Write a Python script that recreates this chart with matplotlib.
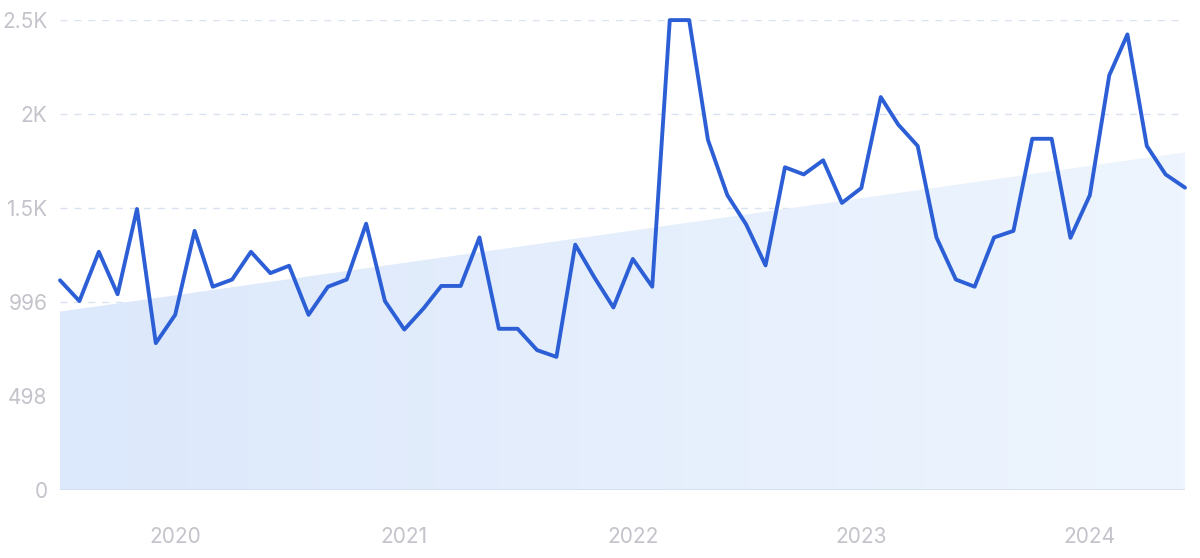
import numpy as np
import pandas as pd
import matplotlib
matplotlib.use("Agg")
import matplotlib.pyplot as plt
from matplotlib.colors import LinearSegmentedColormap

# Monthly values, Jul 2019 - Jun 2024
months = pd.date_range("2019-07-01", periods=60, freq="MS")
values = [
    1111, 1001, 1262, 1037, 1489, 778, 928, 1373, 1077, 1115,
    1262, 1149, 1188, 928, 1077, 1115, 1411, 1001, 850, 963,
    1081, 1081, 1338, 854, 854, 741, 705, 1300, 1124, 967,
    1224, 1077, 2490, 2490, 1855, 1562, 1407, 1190, 1710, 1672,
    1747, 1521, 1600, 2082, 1936, 1823, 1338, 1115, 1077, 1338,
    1373, 1861, 1861, 1336, 1562, 2197, 2414, 1823, 1672, 1602,
]
# trend band (start / end of the linear trend)
trend_dates = [months[0], months[-1]]
trend_values = [945, 1789]

y_ticks = [0, 498, 996, 1494, 1992, 2490]
y_labels = ["0", "498", "996", "1.5K", "2K", "2.5K"]
year_ticks = pd.to_datetime(["2020-01-01", "2021-01-01", "2022-01-01",
                             "2023-01-01", "2024-01-01"])
year_labels = ["2020", "2021", "2022", "2023", "2024"]

LINE_COLOR = "#2c5fd6"
TEXT_COLOR = "#c3c3cb"
GRID_COLOR = "#d9e2f0"

plt.rcParams["font.family"] = ["Inter", "DejaVu Sans"]

fig = plt.figure(figsize=(12, 5.58), dpi=100)
ax = fig.add_axes([0.05, 0.122, 0.9375, 0.842])

# trend area with a soft horizontal gradient
poly = ax.fill_between(trend_dates, 0, trend_values, color="none", lw=0)
cmap = LinearSegmentedColormap.from_list("fade", ["#dce8fb", "#eef5fe"])
x0, x1 = matplotlib.dates.date2num(months[0]), matplotlib.dates.date2num(months[-1])
grad = np.linspace(0, 1, 256).reshape(1, -1)
img = ax.imshow(grad, cmap=cmap, aspect="auto", extent=[x0, x1, 0, max(trend_values)],
                origin="lower", zorder=1)
path = poly.get_paths()[0]
img.set_clip_path(path, transform=ax.transData)

# dashed grid lines
for t in y_ticks[1:]:
    ax.axhline(t, color=GRID_COLOR, lw=1, ls=(0, (5, 5)), zorder=0)
ax.axhline(0, color="#d3def0", lw=1.2, zorder=2)

ax.plot(months, values, color=LINE_COLOR, lw=2.8, zorder=3,
        solid_joinstyle="round", solid_capstyle="round", clip_on=False)

ax.set_xlim(months[0], months[-1])
ax.set_ylim(0, 2490)
ax.set_yticks(y_ticks)
ax.set_yticklabels(y_labels)
ax.set_xticks(year_ticks)
ax.set_xticklabels(year_labels)
ax.tick_params(axis="both", length=0, labelsize=15, colors=TEXT_COLOR)
ax.tick_params(axis="y", pad=9)
ax.tick_params(axis="x", pad=27)

for s in ax.spines.values():
    s.set_visible(False)

fig.savefig("out.png", dpi=100)
